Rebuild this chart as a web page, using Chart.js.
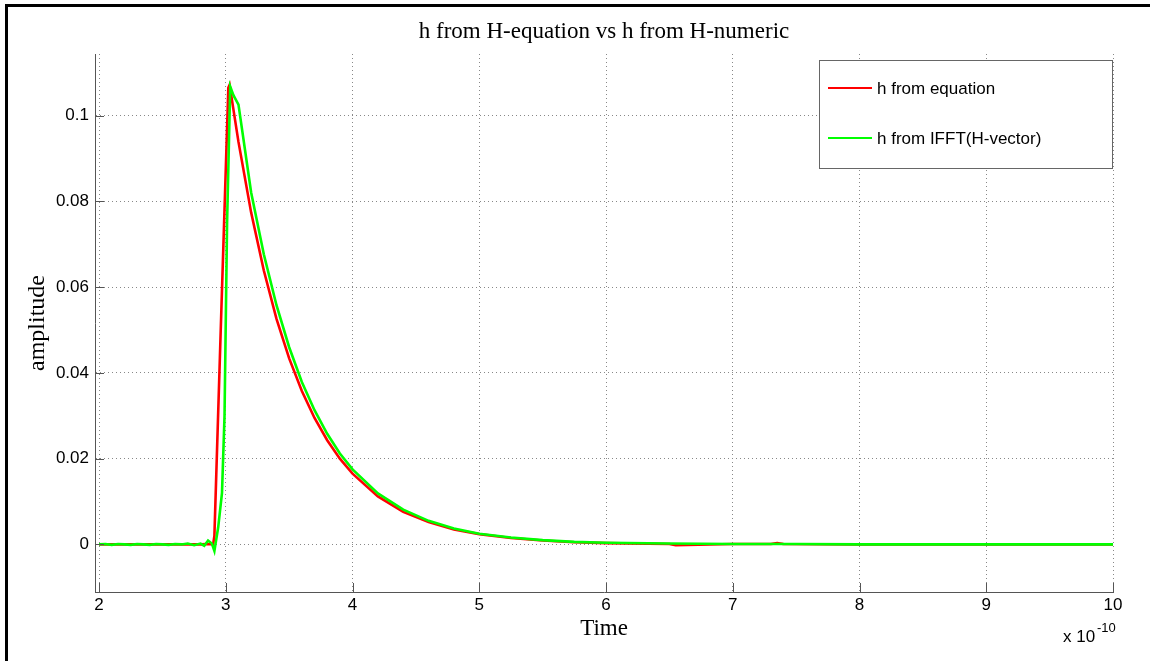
<!DOCTYPE html>
<html>
<head>
<meta charset="utf-8">
<title>h from H-equation vs h from H-numeric</title>
<script src="https://cdn.jsdelivr.net/npm/chart.js@4/dist/chart.umd.min.js"></script>
<style>
  html, body { margin: 0; padding: 0; background: #fff; overflow: hidden; }
  #wrap { width: 1150px; height: 661px; position: relative; }
</style>
</head>
<body>
<div id="wrap"><canvas id="hChart" width="1150" height="661"></canvas></div>
<script>
// ==== Data (time in units of 1e-10 s) ====
const redTime = [2.0, 2.1, 2.2, 2.3, 2.4, 2.5, 2.6, 2.7, 2.8, 2.85, 2.9, 2.91, 2.96, 3.02, 3.03, 3.1, 3.2, 3.3, 3.4, 3.5, 3.6, 3.7, 3.8, 3.9, 4.0, 4.2, 4.4, 4.6, 4.8, 5.0, 5.25, 5.5, 5.75, 6.0, 6.5, 6.55, 7.0, 7.3, 7.35, 7.4, 8.0, 9.0, 10.0];
const redAmp = [0, 0, 0, 0, 0, 0, 0, 0, 0, 0.0001, 0, 0.002, 0.05, 0.1065, 0.1072, 0.0939, 0.0774, 0.0639, 0.0526, 0.0434, 0.0358, 0.0295, 0.0243, 0.0200, 0.0165, 0.0112, 0.0076, 0.0052, 0.0035, 0.0024, 0.0015, 0.0009, 0.0005, 0.0003, 0.0001, -0.0002, 0.0001, 0.0001, 0.0003, 0.0001, 0, 0, 0];

const greenTime = [2.0, 2.05, 2.1, 2.15, 2.2, 2.25, 2.3, 2.35, 2.4, 2.45, 2.5, 2.55, 2.6, 2.65, 2.7, 2.75, 2.8, 2.83, 2.86, 2.89, 2.91, 2.94, 2.97, 2.99, 3.01, 3.035, 3.06, 3.1, 3.2, 3.3, 3.4, 3.5, 3.6, 3.7, 3.8, 3.9, 4.0, 4.2, 4.4, 4.6, 4.8, 5.0, 5.25, 5.5, 5.75, 6.0, 6.5, 7.0, 7.5, 8.0, 9.0, 10.0];
const greenAmp = [0, 0.0001, -0.0001, 0.0001, 0, -0.0001, 0.0001, 0, -0.0001, 0.0001, 0, -0.0001, 0.0001, 0, 0.0002, -0.0002, 0.0002, -0.0003, 0.0009, 0.0002, -0.0015, 0.004, 0.012, 0.03, 0.075, 0.1068, 0.1048, 0.1026, 0.0821, 0.0677, 0.0558, 0.0460, 0.0379, 0.0313, 0.0258, 0.0212, 0.0175, 0.0119, 0.0081, 0.0055, 0.0037, 0.0025, 0.0016, 0.0010, 0.0006, 0.0004, 0.0002, 0.0001, 0.0001, 0, 0, 0];

const xTicks = [2, 3, 4, 5, 6, 7, 8, 9, 10];
const yTicks = [0, 0.02, 0.04, 0.06, 0.08, 0.1];

const toPoints = (xs, ys) => xs.map((x, i) => ({ x: x, y: ys[i] }));

const SANS = "'Liberation Sans', Arial, sans-serif";
const SERIF = "'Liberation Serif', 'Times New Roman', serif";

// ==== Figure frame, title, inward ticks, legend, exponent ====
const matlabLook = {
  id: "matlabLook",
  beforeDraw(chart) {
    const ctx = chart.ctx;
    ctx.save();
    ctx.fillStyle = "#fff";
    ctx.fillRect(0, 0, chart.width, chart.height);
    ctx.fillStyle = "#000";
    ctx.fillRect(5, 4, chart.width, 3);
    ctx.fillRect(5, 4, 3, chart.height);
    ctx.restore();
  },
  afterDraw(chart) {
    const ctx = chart.ctx;
    const area = chart.chartArea;
    const xs = chart.scales.x, ys = chart.scales.y;
    ctx.save();

    // title
    ctx.fillStyle = "#000";
    ctx.font = "23px " + SERIF;
    ctx.textAlign = "center";
    ctx.textBaseline = "alphabetic";
    ctx.fillText("h from H-equation vs h from H-numeric", (area.left + area.right) / 2, 38);

    // inward tick marks
    ctx.strokeStyle = "#555";
    ctx.lineWidth = 1;
    ctx.beginPath();
    xTicks.forEach(v => {
      const px = Math.round(xs.getPixelForValue(v)) + 0.5;
      ctx.moveTo(px, area.bottom);
      ctx.lineTo(px, area.bottom - 9);
    });
    yTicks.forEach(v => {
      const py = Math.round(ys.getPixelForValue(v)) + 0.5;
      ctx.moveTo(area.left, py);
      ctx.lineTo(area.left + 9, py);
    });
    ctx.stroke();

    // legend box
    const lx = 819.5, ly = 60.5, lw = 293, lh = 108;
    ctx.fillStyle = "#fff";
    ctx.fillRect(lx, ly, lw, lh);
    ctx.strokeStyle = "#666";
    ctx.strokeRect(lx, ly, lw, lh);
    ctx.font = "17px " + SANS;
    ctx.textAlign = "left";
    ctx.textBaseline = "middle";
    const entries = chart.data.datasets.slice().sort((a, b) => a.legendIndex - b.legendIndex);
    entries.forEach((ds, i) => {
      const cy = 88 + i * 50;
      ctx.strokeStyle = ds.borderColor;
      ctx.lineWidth = 2;
      ctx.beginPath();
      ctx.moveTo(828, cy);
      ctx.lineTo(872, cy);
      ctx.stroke();
      ctx.fillStyle = "#000";
      ctx.fillText(ds.label, 877, cy + 1);
    });

    // x-axis exponent
    ctx.textBaseline = "alphabetic";
    ctx.font = "17px " + SANS;
    ctx.fillText("x 10", 1063, 642);
    ctx.font = "13px " + SANS;
    ctx.fillText("-10", 1097, 632);
    ctx.restore();
  }
};

new Chart(document.getElementById("hChart").getContext("2d"), {
  type: "line",
  data: {
    datasets: [
      {
        label: "h from equation",
        data: toPoints(redTime, redAmp),
        borderColor: "#ff0000",
        borderWidth: 2.6,
        pointRadius: 0,
        tension: 0,
        fill: false,
        order: 1,
        legendIndex: 0
      },
      {
        label: "h from IFFT(H-vector)",
        data: toPoints(greenTime, greenAmp),
        borderColor: "#00ff00",
        borderWidth: 2.6,
        pointRadius: 0,
        tension: 0,
        fill: false,
        order: 0,
        legendIndex: 1
      }
    ]
  },
  options: {
    responsive: false,
    animation: false,
    layout: { padding: { left: 0, top: 54, right: 37, bottom: 0 } },
    plugins: {
      legend: { display: false },
      title: { display: false },
      tooltip: { enabled: false }
    },
    scales: {
      x: {
        type: "linear",
        min: 1.968,
        max: 10,
        afterBuildTicks: scale => { scale.ticks = xTicks.map(v => ({ value: v })); },
        afterFit: scale => { scale.height = 69; },
        grid: { color: "#888", lineWidth: 1, drawTicks: false },
        border: { display: true, color: "#555", width: 1, dash: [1, 3] },
        ticks: {
          color: "#000",
          font: { family: SANS, size: 17 },
          padding: 3,
          maxRotation: 0,
          callback: v => String(v)
        },
        title: {
          display: true,
          text: "Time",
          color: "#000",
          font: { family: SERIF, size: 23 },
          padding: { top: 0, bottom: 18 }
        }
      },
      y: {
        type: "linear",
        min: -0.0111,
        max: 0.1144,
        afterBuildTicks: scale => { scale.ticks = yTicks.map(v => ({ value: v })); },
        afterFit: scale => { scale.width = 95; },
        grid: { color: "#888", lineWidth: 1, drawTicks: false },
        border: { display: true, color: "#555", width: 1, dash: [1, 3] },
        ticks: {
          color: "#000",
          font: { family: SANS, size: 17 },
          padding: 6,
          callback: v => String(v)
        },
        title: {
          display: true,
          text: "amplitude",
          color: "#000",
          font: { family: SERIF, size: 24 },
          padding: { top: 23, bottom: 0 }
        }
      }
    }
  },
  plugins: [matlabLook]
});
</script>
</body>
</html>
